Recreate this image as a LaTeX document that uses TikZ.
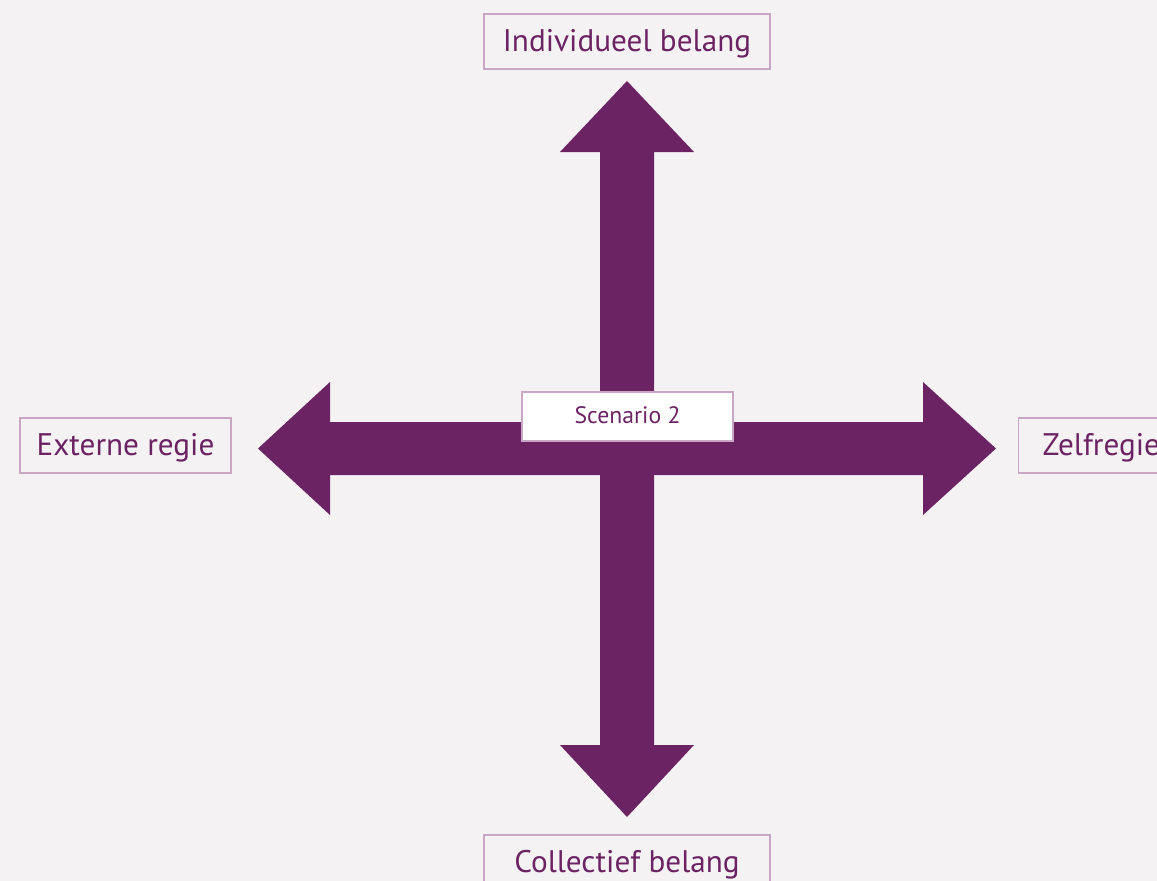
\documentclass[tikz,border=0pt]{standalone}
\usepackage{fontspec}
\setmainfont{PT Sans}
\definecolor{bgcol}{HTML}{F5F2F4}
\definecolor{plum}{HTML}{6B2363}
\definecolor{boxline}{HTML}{C9A6C4}
\begin{document}
\begin{tikzpicture}[x=0.75pt,y=-0.75pt,
  label box/.style={draw=boxline, line width=0.9pt, fill=bgcol, text=plum,
    inner sep=0pt, minimum height=41.25pt, text height=15.6pt, text depth=0pt,
    font=\fontsize{23.4}{26}\selectfont},
  center box/.style={draw=boxline, line width=0.9pt, fill=white, text=plum,
    inner sep=0pt, minimum width=158.25pt, minimum height=36.75pt,
    text height=11.2pt, text depth=0pt, font=\fontsize{17.8}{20}\selectfont},
  arrow body/.style={fill=plum, draw=none}]
  % canvas
  \fill[bgcol] (0,0) rectangle (1157,881);
  \useasboundingbox (0,0) rectangle (1157,881);
  \clip (0,0) rectangle (1157,881);

  % vertical double arrow
  \fill[arrow body] (627,81) -- (694,152) -- (654,152) -- (654,745) -- (694,745)
    -- (627,817) -- (560,745) -- (600,745) -- (600,152) -- (560,152) -- cycle;
  % horizontal double arrow
  \fill[arrow body] (258,448.5) -- (330,382) -- (330,422) -- (923,422) -- (923,382)
    -- (996,448.5) -- (923,515) -- (923,475) -- (330,475) -- (330,515) -- cycle;

  % axis labels
  \node[label box, minimum width=214.5pt] (top) at (627,41.5) {Individueel belang};
  \node[label box, minimum width=214.5pt] (bottom) at (627,862.5) {Collectief belang};
  \node[label box, minimum width=158.25pt] (left) at (125.5,445.5) {Externe regie};
  \node[label box, anchor=west, inner xsep=18pt, text width=122.25pt, align=left]
    (right) at (1018,445.5) {Zelfregie};

  % centre label
  \node[center box] (centre) at (627.5,416.5) {Scenario 2};
\end{tikzpicture}
\end{document}
